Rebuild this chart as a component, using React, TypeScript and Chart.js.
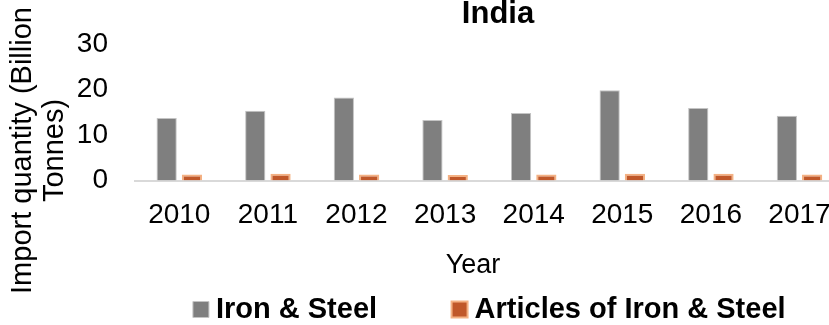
import React, { useEffect, useRef } from "react";
import { Chart, registerables } from "chart.js";

Chart.register(...registerables);

const years = ["2010", "2011", "2012", "2013", "2014", "2015", "2016", "2017"];
const ironSteel = [13.7, 15.3, 18.2, 13.3, 14.8, 19.8, 15.9, 14.2];
const articles = [1.3, 1.5, 1.3, 1.2, 1.3, 1.5, 1.5, 1.3];
const seriesNames = ["Iron & Steel", "Articles of Iron & Steel"];
const chartTitle = "India";
const xTitle = "Year";
const yTitleLines = ["Import quantity (Billion", "Tonnes)"];

const FONT = '"Liberation Sans", Arial, Helvetica, sans-serif';

const textPlugin = {
  id: "customText",
  afterDraw(chart: any) {
    const ctx = chart.ctx;
    ctx.save();
    ctx.fillStyle = "#000000";
    ctx.textAlign = "center";
    ctx.textBaseline = "alphabetic";
    ctx.font = `bold 31px ${FONT}`;
    ctx.fillText(chartTitle, 498, 23);
    ctx.font = `27px ${FONT}`;
    ctx.fillText(xTitle, 473, 273);
    ctx.font = `29px ${FONT}`;
    yTitleLines.forEach((line, i) => {
      ctx.save();
      ctx.translate(30.5 + i * 32.5, 150.5);
      ctx.rotate(-Math.PI / 2);
      ctx.fillText(line, 0, 0);
      ctx.restore();
    });
    ctx.restore();
  },
};

export default function App() {
  const ref = useRef<HTMLCanvasElement | null>(null);

  useEffect(() => {
    if (!ref.current) return;
    const chart = new Chart(ref.current, {
      type: "bar",
      data: {
        labels: years,
        datasets: [
          {
            label: seriesNames[0],
            data: ironSteel,
            backgroundColor: "#7F7F7F",
            borderColor: "#C4C4C4",
            borderWidth: 1,
            categoryPercentage: 0.571,
            barPercentage: 0.8,
          },
          {
            label: seriesNames[1],
            data: articles,
            backgroundColor: "#C0582A",
            borderColor: "#F4B183",
            borderWidth: 2,
            categoryPercentage: 0.571,
            barPercentage: 0.8,
          },
        ],
      },
      options: {
        responsive: false,
        animation: false,
        devicePixelRatio: 1,
        layout: { padding: { top: 40.5, left: 0, right: 0, bottom: 0 } },
        plugins: {
          title: { display: false },
          tooltip: { enabled: false },
          legend: {
            display: true,
            position: "bottom",
            labels: {
              usePointStyle: true,
              pointStyle: "rect",
              boxWidth: 1,
              boxHeight: 16,
              padding: 33.25,
              color: "#000000",
              font: { family: FONT, size: 29, weight: "bold" },
              generateLabels: (c: any) => {
                const items = Chart.defaults.plugins.legend.labels.generateLabels(c);
                const spacer = {
                  text: "",
                  fillStyle: "rgba(0,0,0,0)",
                  strokeStyle: "rgba(0,0,0,0)",
                  lineWidth: 0,
                  hidden: false,
                  pointStyle: "rect",
                  datasetIndex: -1,
                };
                return [items[0], spacer, items[1]];
              },
            },
          },
        },
        scales: {
          x: {
            grid: { display: false, drawTicks: false },
            border: { display: true, color: "#D9D9D9", width: 2 },
            ticks: {
              color: "#000000",
              font: { family: FONT, size: 28, lineHeight: 1.2 },
              padding: 17.7,
              maxRotation: 0,
              autoSkip: false,
            },
            afterFit: (s: any) => {
              s.height = 81.25;
            },
          },
          y: {
            min: 0,
            max: 30,
            grid: { display: false, drawTicks: false },
            border: { display: false },
            ticks: {
              stepSize: 10,
              color: "#000000",
              font: { family: FONT, size: 28, lineHeight: 1.2 },
              padding: 27,
            },
            afterFit: (s: any) => {
              s.width = 135;
            },
          },
          yRight: {
            type: "linear",
            position: "right",
            display: true,
            grid: { display: false, drawTicks: false },
            border: { display: false },
            ticks: { display: false },
            afterFit: (s: any) => {
              s.width = 142.2;
            },
          },
        },
      },
      plugins: [textPlugin],
    } as any);
    return () => chart.destroy();
  }, []);

  return (
    <div
      style={{
        position: "fixed",
        left: 0,
        top: 0,
        width: 829,
        height: 325,
        overflow: "hidden",
        background: "#ffffff",
      }}
    >
      <canvas ref={ref} width={986} height={334} style={{ display: "block" }} />
    </div>
  );
}
